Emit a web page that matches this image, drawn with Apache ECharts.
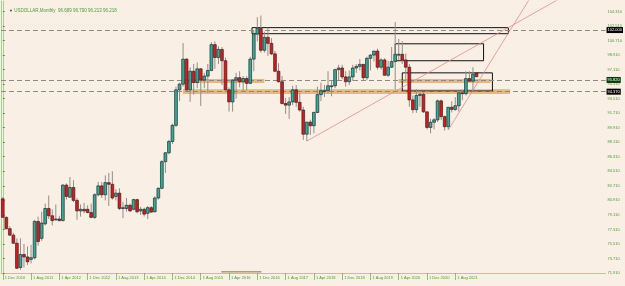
<!DOCTYPE html>
<html><head><meta charset="utf-8">
<script src="https://cdn.jsdelivr.net/npm/echarts@6/dist/echarts.min.js"></script>
<style>html,body{margin:0;padding:0;background:#f9efe5}#c{width:625px;height:286px}</style>
</head><body><div id="c"></div>
<script>
// Monthly candles Dec 2010 .. Feb 2022
const opens  = [81.1,78.8,77.4,76.6,75.6,72.6,74.2,73.9,73.6,73.8,78.3,76.2,78.0,79.9,79.0,78.6,78.6,78.4,82.8,81.3,82.5,80.9,79.6,79.8,79.8,79.4,78.8,81.6,82.7,81.6,83.1,82.9,81.4,81.8,79.9,79.9,80.3,79.8,81.0,79.6,79.8,79.3,80.0,79.5,81.2,82.4,85.7,86.8,88.2,90.2,94.6,95.3,98.4,94.6,96.9,95.5,97.2,95.8,96.3,97.0,100.2,98.6,99.6,98.2,94.6,93.1,95.8,96.1,95.6,96.0,95.4,98.4,101.5,102.2,99.5,101.1,100.35,99.05,96.9,95.6,92.9,92.7,93.1,94.6,93.05,92.1,89.1,90.6,90.15,91.8,94.0,94.5,94.5,95.1,95.1,97.1,97.3,96.2,95.6,96.2,97.3,97.5,97.75,96.1,98.5,98.9,99.4,97.4,98.3,96.4,97.4,98.1,99.0,99.0,98.3,97.4,93.35,92.14,93.89,94.04,91.87,89.94,90.58,90.88,93.23,91.28,90.03,92.44,92.17,92.63,94.23,94.12,95.99,95.67,96.69];
const highs  = [81.3,78.9,77.7,76.9,76.2,76.2,75.5,75.2,75.4,78.5,78.9,79.5,80.5,81.5,79.8,80.4,79.0,82.9,83.0,83.8,83.4,81.2,80.4,80.6,80.3,80.5,81.8,83.2,83.2,84.0,84.3,84.5,82.3,82.4,80.7,81.2,80.5,81.1,81.1,80.1,80.0,80.2,80.2,81.4,82.5,85.9,86.9,88.4,90.4,95.0,95.5,100.4,98.5,97.4,97.8,98.0,97.3,96.7,97.8,100.5,100.6,100.0,99.9,98.6,94.9,95.9,96.7,96.9,96.3,96.3,98.7,102.0,103.6,103.8,101.8,102.3,101.0,99.4,97.9,96.3,93.6,93.7,95.1,95.2,94.2,92.5,90.6,90.9,91.9,95.0,95.5,95.2,96.9,95.7,97.2,97.7,97.7,96.9,97.0,97.7,97.8,98.4,97.8,98.7,99.0,99.4,99.7,98.5,98.5,98.2,99.9,103.0,100.9,100.6,99.1,97.8,93.9,94.7,94.3,94.3,91.9,91.0,91.1,93.4,93.4,91.4,92.4,93.2,93.7,94.5,94.6,96.9,96.9,97.4,96.70];
const lows   = [78.8,77.3,76.5,75.5,72.4,72.3,72.6,72.9,73.1,73.6,75.3,75.9,77.8,78.6,77.8,78.4,78.3,78.3,81.0,81.2,80.7,78.5,78.9,79.3,79.3,78.7,78.6,81.4,81.2,80.9,80.2,81.0,80.9,79.7,78.7,79.5,79.5,79.7,79.3,79.1,78.9,78.6,79.4,79.4,81.0,82.3,84.3,86.6,87.9,90.0,93.2,95.0,94.4,93.1,94.0,94.8,92.6,94.8,94.2,96.9,97.2,97.8,95.2,94.6,91.9,91.9,93.5,94.9,94.5,94.5,95.3,96.9,100.6,99.2,99.2,98.8,98.9,96.8,95.5,92.8,91.6,91.0,92.7,92.5,91.9,88.4,88.25,89.0,89.2,91.7,93.2,93.7,94.1,93.8,94.8,95.7,95.9,95.0,95.2,95.7,96.7,97.0,95.8,95.8,97.0,98.1,97.1,97.1,96.4,96.2,97.3,94.65,98.3,97.8,95.7,92.5,91.7,91.75,92.5,91.75,89.7,89.2,89.7,90.6,90.85,89.55,89.65,91.8,92.0,91.9,93.3,93.9,95.6,94.6,96.21];
const closes = [78.8,77.4,76.6,75.6,72.5,74.2,73.9,73.3,73.8,78.3,75.8,78.1,79.9,79.0,78.4,78.6,78.4,82.8,81.4,82.5,80.9,79.6,79.8,79.6,79.4,78.8,81.6,82.7,81.6,83.1,82.9,81.2,81.8,79.9,80.0,80.3,79.6,81.0,79.5,79.8,79.2,80.0,79.45,81.2,82.4,85.7,86.8,88.2,90.2,94.6,95.3,98.4,94.6,96.9,95.5,97.2,95.8,96.3,97.0,100.2,98.6,99.6,98.2,94.6,93.1,95.8,96.1,95.6,96.0,95.4,98.4,101.5,102.2,99.5,101.1,100.35,99.05,96.9,95.6,92.9,92.7,93.1,94.6,93.05,92.1,89.1,90.6,90.15,91.8,94.0,94.5,94.5,95.1,95.1,97.1,97.3,96.2,95.6,96.2,97.3,97.5,97.75,96.1,98.5,98.9,99.4,97.4,98.3,96.4,97.4,98.1,99.0,99.0,98.3,97.4,93.35,92.14,93.89,94.04,91.87,89.94,90.58,90.88,93.23,91.28,90.03,92.44,92.17,92.63,94.23,94.12,95.99,95.67,96.54,96.22];

const monthNames = ['Jan','Feb','Mar','Apr','May','Jun','Jul','Aug','Sep','Oct','Nov','Dec'];
const startYear = 2010, startMonth = 11; // Dec 2010
const slotCount = 171; // candles + right shift space
const tickLabels = ['1 Dec 2010','1 Aug 2011','1 Apr 2012','1 Dec 2012','1 Aug 2013','1 Apr 2014','1 Dec 2014','1 Aug 2015','1 Apr 2016','1 Dec 2016','1 Aug 2017','1 Apr 2018','1 Dec 2018','1 Aug 2019','1 Apr 2020','1 Dec 2020','1 Aug 2021'];
const priceTicks = [71.91,73.71,75.51,77.31,79.11,80.91,82.71,84.51,86.31,88.11,89.91,91.71,93.51,95.31,97.11,98.91,100.71,102.51,104.31];

// horizontal levels, bands, boxes, trend lines (x in bar index)
const hLevels = [102.0, 95.82, 94.37];
const hLevelBox = ['#000','#0b3d0b','#000'];
const bandUpper = [[51,74,95.45,95.95],[112,138,95.45,95.95]];
const bandLower = [[51,143.5,94.08,94.66]];
const rects = [[70.5,143,102.3,101.55],[111,136,100.3,98.2],[113,138.5,96.7,94.45]];
const trend1 = [[86,88.25],[190,113.9]];
const trend2 = [[126,89.62],[160,113.6]];
const bottomSeg = [[62,72.05],[73,72.05]];

const cats = [];
for (let i = 0; i < slotCount; i++) {
  const m = (startMonth + i) % 12, y = startYear + Math.floor((startMonth + i) / 12);
  cats.push(i < opens.length ? '1 ' + monthNames[m] + ' ' + y : '');
}
const candles = opens.map((o, i) => [i, o, closes[i], lows[i], highs[i]]);

const chart = echarts.init(document.getElementById('c'), null, {renderer: 'canvas'});
const green = '#4c9a3c', axisGreen = '#a9cf98';
chart.setOption({
  backgroundColor: '#f9efe5',
  animation: false,
  title: {
    text: '{t|▼} USDOLLAR,Monthly  96.689 96.700 96.213 96.218',
    left: 4, top: 3,
    textStyle: {fontSize: 4.5, color: green, fontFamily: 'Liberation Sans', fontWeight: 'normal',
      rich: {t: {fontSize: 4, color: '#1c5c1c'}}}
  },
  grid: {left: 1, right: 18, top: 1, bottom: 13},
  xAxis: [{
    type: 'category', data: cats, boundaryGap: true,
    axisLine: {lineStyle: {color: axisGreen, width: 1}},
    axisTick: {show: true, alignWithLabel: true, length: 7, lineStyle: {color: green, width: 0.6},
      interval: (i) => i % 8 === 0 && i < opens.length},
    axisLabel: {interval: (i) => i % 8 === 0 && i < opens.length, align: 'left', margin: 3,
      fontSize: 4, color: green, fontFamily: 'Liberation Sans', padding: [0,0,0,2],
      formatter: (v, i) => tickLabels[i / 8] || ''},
    splitLine: {show: false}
  }, {
    type: 'value', min: -0.5, max: slotCount - 0.5, show: false
  }],
  yAxis: [{
    type: 'value', position: 'right', min: 71.91, max: 105.6, scale: true,
    axisLine: {show: true, lineStyle: {color: axisGreen, width: 1}},
    axisTick: {show: true, length: 2, customValues: priceTicks, lineStyle: {color: green}},
    axisLabel: {customValues: priceTicks, formatter: v => v.toFixed(3), fontSize: 4, color: green,
      fontFamily: 'Liberation Sans', margin: 2},
    splitLine: {show: false}
  }, {
    type: 'value', position: 'left', min: 71.91, max: 105.6,
    axisLine: {show: true, lineStyle: {color: axisGreen, width: 1}},
    axisTick: {show: false}, axisLabel: {show: false}, splitLine: {show: false}
  }],
  series: [
    {
      type: 'custom', xAxisIndex: 0, data: candles, z: 5,
      renderItem: function (params, api) {
        const i = api.value(0), o = api.value(1), c = api.value(2), l = api.value(3), h = api.value(4);
        const pO = api.coord([i, o]), pC = api.coord([i, c]), pL = api.coord([i, l]), pH = api.coord([i, h]);
        const w = api.size([1, 0])[0] * 0.78;
        const x = pO[0];
        const top = Math.min(pO[1], pC[1]), bot = Math.max(pO[1], pC[1]);
        const bull = c >= o;
        return {type: 'group', children: [
          {type: 'line', shape: {x1: x, y1: pH[1], x2: x, y2: pL[1]}, style: {stroke: '#958e87', lineWidth: 1}},
          {type: 'rect', shape: {x: x - w / 2, y: top, width: w, height: Math.max(bot - top, 0.9)},
           style: {fill: bull ? '#2aae9d' : '#e0161a', stroke: '#2e2626', lineWidth: 0.7}}
        ]};
      }
    },
    {
      type: 'line', xAxisIndex: 1, data: [], z: 2,
      markArea: {silent: true, itemStyle: {color: 'rgba(222,170,104,0.8)'},
        data: bandUpper.concat(bandLower).map(b => [{xAxis: b[0], yAxis: b[2]}, {xAxis: b[1], yAxis: b[3]}])},
      markLine: {silent: true, symbol: 'none',
        lineStyle: {color: '#8f8982', type: [5, 3], width: 1.2},
        label: {show: false},
        data: hLevels.map((v, k) => ({yAxis: v, label: {show: true, position: 'end', distance: 1,
          formatter: v.toFixed(3), backgroundColor: hLevelBox[k], color: '#fff', fontSize: 4, padding: [1,1],
          fontFamily: 'Liberation Sans'}}))}
    },
    {
      type: 'line', xAxisIndex: 1, data: [], z: 6,
      markArea: {silent: true, itemStyle: {color: 'rgba(0,0,0,0)', borderColor: '#111', borderWidth: 1},
        data: rects.map(r => [{xAxis: r[0], yAxis: r[2]}, {xAxis: r[1], yAxis: r[3]}])}
    },
    {type: 'line', xAxisIndex: 1, data: trend1, symbol: 'none', clip: true, z: 4,
     lineStyle: {color: '#e88a8a', width: 0.8}},
    {type: 'line', xAxisIndex: 1, data: trend2, symbol: 'none', clip: true, z: 4,
     lineStyle: {color: '#e88a8a', width: 0.8}},
    {type: 'line', xAxisIndex: 1, data: bottomSeg, symbol: 'circle', symbolSize: 1.5, z: 4,
     itemStyle: {color: '#e77'}, lineStyle: {color: '#8a6a4a', width: 1}}
  ]
});
</script></body></html>
